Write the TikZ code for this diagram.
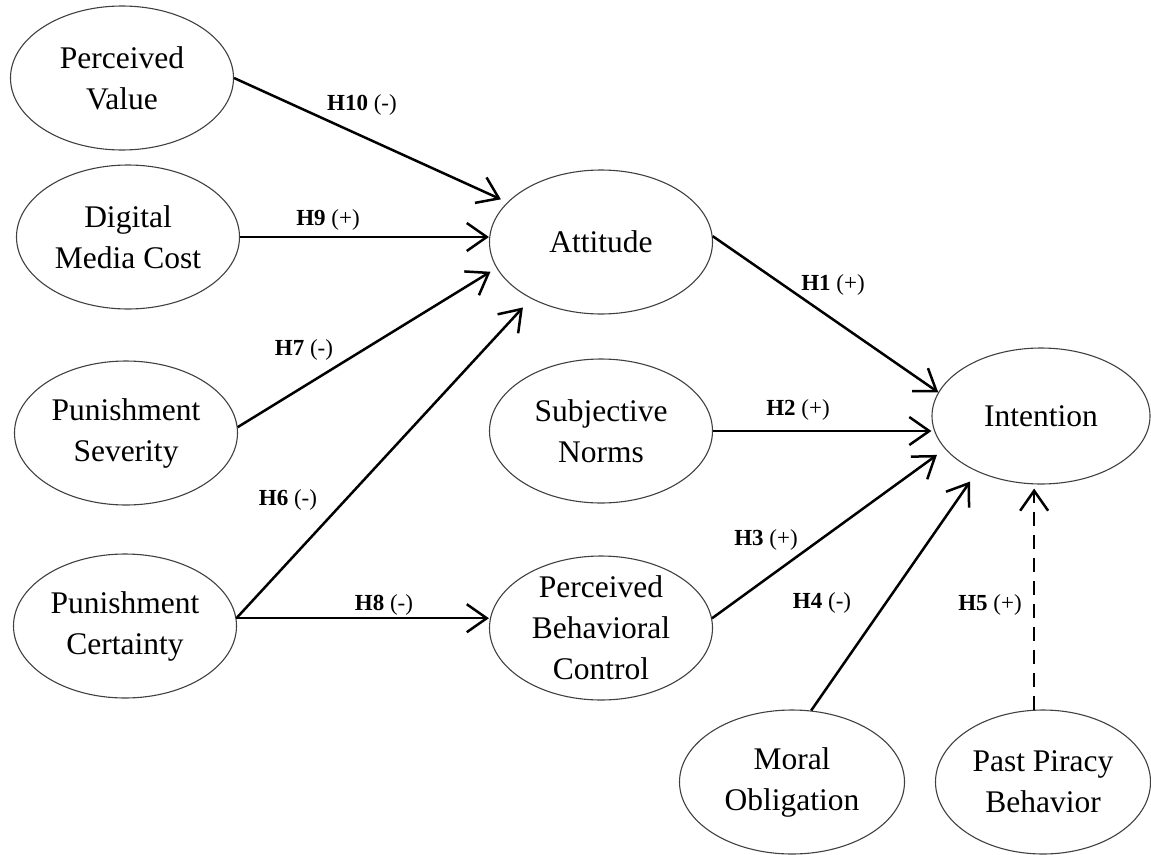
\documentclass[tikz,border=0pt]{standalone}
\usepackage{fontspec}
\setmainfont{Liberation Serif}
\usetikzlibrary{shapes.geometric,arrows.meta}
\begin{document}
\begin{tikzpicture}[x=1pt,y=-1pt,
  construct/.style={ellipse, draw=black!75, line width=1.1pt, minimum width=223pt,
    minimum height=144pt, inner sep=0pt, align=center,
    font=\fontsize{31.5}{41}\selectfont},
  hyp/.style={line width=2.5pt, -{Straight Barb[length=20pt,width=28pt]}},
  hlab/.style={inner sep=0pt, font=\fontsize{23}{26}\selectfont}
]
\useasboundingbox (0,0) rectangle (1151,854);

% constructs
\node[construct] (pv)  at (122,78)  {Perceived\\Value};
\node[construct] (dmc) at (128,237) {Digital\\Media Cost};
\node[construct] (ps)  at (126,433) {Punishment\\Severity};
\node[construct] (pc)  at (125,626) {Punishment\\Certainty};
\node[construct] (att) at (601,242) {Attitude};
\node[construct] (sn)  at (601,431) {Subjective\\Norms};
\node[construct, inner ysep=-6pt] (pbc) at (601,628) {Perceived\\Behavioral\\Control};
\node[construct, minimum width=218pt, minimum height=136pt] (int) at (1041,416) {Intention};
\node[construct, minimum width=225pt] (mo)  at (792,782) {Moral\\Obligation};
\node[construct, minimum width=215pt] (ppb) at (1043,782) {Past Piracy\\Behavior};

% hypotheses
\draw[hyp, shorten >=7pt] (pv.east) -- (att.157);
\draw[hyp] (dmc.east) -- (dmc.east -| att.west);
\draw[hyp, shorten >=7pt] (ps.3) -- (att.194);
\draw[hyp, shorten >=12pt] (pc.4) -- (att.219);
\draw[hyp] (pc.4) -- (pc.4 -| pbc.west);
\draw[hyp] (att.3) -- (int.167);
\draw[hyp] (sn.east) -- (sn.east -| int.west);
\draw[hyp, shorten >=10pt] (pbc.5) -- (int.199);
\draw[hyp, shorten >=12pt] (mo.75) -- (int.221);
\draw[hyp, dash pattern=on 14pt off 9pt, shorten >=4pt] (ppb.97) -- (ppb.97 |- int.south);

% labels
\node[hlab] (l10) at (362,105) {\textbf{H10} (-)};
\node[hlab] (l9)  at (328,220) {\textbf{H9} (+)};
\node[hlab] (l7)  at (304,350) {\textbf{H7} (-)};
\node[hlab] (l6)  at (288,500) {\textbf{H6} (-)};
\node[hlab] (l8)  at (384,605) {\textbf{H8} (-)};
\node[hlab] (l1)  at (833,285) {\textbf{H1} (+)};
\node[hlab] (l2)  at (798,410) {\textbf{H2} (+)};
\node[hlab] (l3)  at (766,540) {\textbf{H3} (+)};
\node[hlab] (l4)  at (822,603) {\textbf{H4} (-)};
\node[hlab] (l5)  at (990,605) {\textbf{H5} (+)};
\end{tikzpicture}
\end{document}
